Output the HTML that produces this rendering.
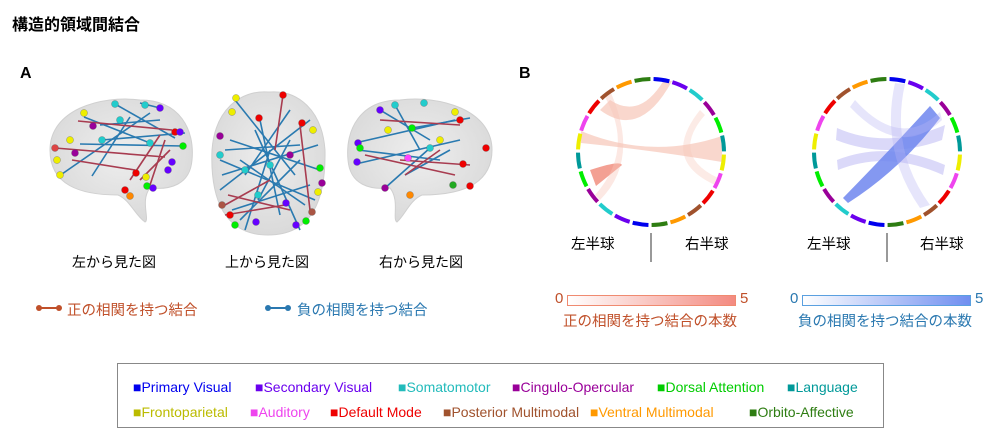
<!DOCTYPE html>
<html><head><meta charset="utf-8"><style>
body{margin:0;width:1000px;height:434px;background:#fff;font-family:"Liberation Sans","Noto Sans CJK JP",sans-serif;position:relative;overflow:hidden}
.t{position:absolute;white-space:nowrap}
.l{position:absolute;white-space:nowrap;font-size:14px;line-height:16px}
</style></head><body>
<div class="t" style="left:12px;top:11px;font-size:16px;font-weight:bold">構造的領域間結合</div>
<div class="t" style="left:20px;top:65px;font-size:16px;font-weight:bold">A</div>
<div class="t" style="left:519px;top:65px;font-size:16px;font-weight:bold">B</div>

<svg width="1000" height="434" style="position:absolute;left:0;top:0">
<defs>
<radialGradient id="br" cx="50%" cy="45%" r="60%"><stop offset="0" stop-color="#eeeeee"/><stop offset="1" stop-color="#d8d8d8"/></radialGradient>
<linearGradient id="gr" x1="0" x2="1"><stop offset="0" stop-color="#fff"/><stop offset="1" stop-color="#f38a80"/></linearGradient>
<linearGradient id="gb" x1="0" x2="1"><stop offset="0" stop-color="#fff"/><stop offset="1" stop-color="#6f8ef0"/></linearGradient>
<g id="ring" fill="none" stroke-width="4">
<circle r="73" stroke="#0000ee" stroke-dasharray="16 443" transform="rotate(-88)"/>
<circle r="73" stroke="#6a00ee" stroke-dasharray="16 443" transform="rotate(-73)"/>
<circle r="73" stroke="#22cccc" stroke-dasharray="16 443" transform="rotate(-58)"/>
<circle r="73" stroke="#990099" stroke-dasharray="16 443" transform="rotate(-43)"/>
<circle r="73" stroke="#00ee00" stroke-dasharray="16 443" transform="rotate(-28)"/>
<circle r="73" stroke="#009999" stroke-dasharray="16 443" transform="rotate(-13)"/>
<circle r="73" stroke="#eeee00" stroke-dasharray="16 443" transform="rotate(2)"/>
<circle r="73" stroke="#ee44ee" stroke-dasharray="16 443" transform="rotate(17)"/>
<circle r="73" stroke="#ee0000" stroke-dasharray="16 443" transform="rotate(32)"/>
<circle r="73" stroke="#a0522d" stroke-dasharray="16 443" transform="rotate(47)"/>
<circle r="73" stroke="#ff9900" stroke-dasharray="16 443" transform="rotate(62)"/>
<circle r="73" stroke="#2e7d12" stroke-dasharray="16 443" transform="rotate(77)"/>
<circle r="73" stroke="#0000ee" stroke-dasharray="16 443" transform="rotate(92)"/>
<circle r="73" stroke="#6a00ee" stroke-dasharray="16 443" transform="rotate(107)"/>
<circle r="73" stroke="#22cccc" stroke-dasharray="16 443" transform="rotate(122)"/>
<circle r="73" stroke="#990099" stroke-dasharray="16 443" transform="rotate(137)"/>
<circle r="73" stroke="#00ee00" stroke-dasharray="16 443" transform="rotate(152)"/>
<circle r="73" stroke="#009999" stroke-dasharray="16 443" transform="rotate(167)"/>
<circle r="73" stroke="#eeee00" stroke-dasharray="16 443" transform="rotate(182)"/>
<circle r="73" stroke="#ee44ee" stroke-dasharray="16 443" transform="rotate(197)"/>
<circle r="73" stroke="#ee0000" stroke-dasharray="16 443" transform="rotate(212)"/>
<circle r="73" stroke="#a0522d" stroke-dasharray="16 443" transform="rotate(227)"/>
<circle r="73" stroke="#ff9900" stroke-dasharray="16 443" transform="rotate(242)"/>
<circle r="73" stroke="#2e7d12" stroke-dasharray="16 443" transform="rotate(257)"/>
</g>
</defs>
<!-- brains -->
<g fill="url(#br)" stroke="#d0d0d0">
<path d="M50,150 C50,110 100,95 140,100 C180,100 195,130 192,160 C190,185 170,190 150,188 C140,200 150,220 145,222 C135,215 130,200 118,195 C80,195 50,185 50,150Z"/>
<path d="M268,92 C240,90 215,110 212,150 C210,200 225,235 268,235 C312,235 326,200 325,150 C322,110 298,90 270,92Z"/>
<path d="M492,150 C492,110 440,95 400,100 C360,100 345,130 348,160 C350,185 370,190 390,188 C400,200 392,220 397,222 C405,215 410,200 422,195 C460,195 492,185 492,150Z"/>
</g>
<g stroke-width="1.6" fill="none">
<g stroke="#2a7ab0">
<line x1="84" y1="117" x2="150" y2="143"/><line x1="102" y1="140" x2="185" y2="133"/><line x1="115" y1="104" x2="175" y2="138"/><line x1="62" y1="174" x2="150" y2="113"/><line x1="80" y1="144" x2="183" y2="146"/><line x1="92" y1="176" x2="130" y2="117"/><line x1="140" y1="103" x2="160" y2="108"/><line x1="100" y1="125" x2="160" y2="120"/>
<line x1="235" y1="100" x2="295" y2="175"/><line x1="230" y1="140" x2="320" y2="170"/><line x1="220" y1="190" x2="310" y2="120"/><line x1="240" y1="220" x2="300" y2="160"/><line x1="255" y1="130" x2="300" y2="230"/><line x1="220" y1="160" x2="315" y2="200"/><line x1="245" y1="175" x2="290" y2="110"/><line x1="232" y1="210" x2="310" y2="185"/><line x1="260" y1="120" x2="280" y2="215"/><line x1="222" y1="175" x2="318" y2="145"/><line x1="270" y1="150" x2="245" y2="230"/><line x1="290" y1="140" x2="258" y2="200"/><line x1="225" y1="150" x2="300" y2="145"/><line x1="240" y1="160" x2="305" y2="205"/>
<line x1="355" y1="143" x2="455" y2="120"/><line x1="358" y1="150" x2="440" y2="160"/><line x1="380" y1="110" x2="430" y2="140"/><line x1="412" y1="128" x2="470" y2="118"/><line x1="385" y1="188" x2="430" y2="148"/><line x1="360" y1="163" x2="460" y2="140"/><line x1="450" y1="150" x2="405" y2="175"/><line x1="395" y1="105" x2="420" y2="150"/>
</g>
<g stroke="#a83c50">
<line x1="78" y1="121" x2="172" y2="130"/><line x1="130" y1="180" x2="160" y2="135"/><line x1="140" y1="180" x2="170" y2="150"/><line x1="55" y1="148" x2="165" y2="157"/><line x1="72" y1="160" x2="135" y2="170"/><line x1="150" y1="185" x2="165" y2="140"/>
<line x1="225" y1="205" x2="270" y2="180"/><line x1="228" y1="195" x2="290" y2="210"/><line x1="283" y1="95" x2="275" y2="150"/><line x1="300" y1="125" x2="310" y2="210"/><line x1="225" y1="215" x2="285" y2="205"/>
<line x1="380" y1="120" x2="460" y2="125"/><line x1="400" y1="160" x2="470" y2="165"/><line x1="405" y1="175" x2="440" y2="150"/><line x1="365" y1="155" x2="455" y2="175"/>
</g>
</g>
<g stroke="#555" stroke-width=".3">
<circle cx="84" cy="113" r="3.5" fill="#ee0"/><circle cx="115" cy="104" r="3.5" fill="#2cc"/><circle cx="145" cy="105" r="3.5" fill="#2cc"/><circle cx="160" cy="108" r="3.5" fill="#60f"/><circle cx="175" cy="132" r="3.5" fill="#e00"/><circle cx="180" cy="132" r="3.5" fill="#60f"/><circle cx="70" cy="140" r="3.5" fill="#ee0"/><circle cx="102" cy="140" r="3.5" fill="#2cc"/><circle cx="55" cy="148" r="3.5" fill="#d44"/><circle cx="75" cy="153" r="3.5" fill="#909"/><circle cx="57" cy="160" r="3.5" fill="#ee0"/><circle cx="60" cy="175" r="3.5" fill="#ee0"/><circle cx="183" cy="146" r="3.5" fill="#0e0"/><circle cx="172" cy="162" r="3.5" fill="#60f"/><circle cx="168" cy="170" r="3.5" fill="#60f"/><circle cx="136" cy="173" r="3.5" fill="#e00"/><circle cx="146" cy="177" r="3.5" fill="#ee0"/><circle cx="147" cy="186" r="3.5" fill="#0e0"/><circle cx="153" cy="188" r="3.5" fill="#60f"/><circle cx="125" cy="190" r="3.5" fill="#e00"/><circle cx="130" cy="196" r="3.5" fill="#f80"/><circle cx="150" cy="143" r="3.5" fill="#2cc"/><circle cx="120" cy="120" r="3.5" fill="#2cc"/><circle cx="93" cy="126" r="3.5" fill="#909"/>
<circle cx="236" cy="98" r="3.5" fill="#ee0"/><circle cx="283" cy="95" r="3.5" fill="#e00"/><circle cx="232" cy="112" r="3.5" fill="#ee0"/><circle cx="259" cy="118" r="3.5" fill="#e00"/><circle cx="302" cy="123" r="3.5" fill="#e00"/><circle cx="313" cy="130" r="3.5" fill="#ee0"/><circle cx="220" cy="136" r="3.5" fill="#909"/><circle cx="220" cy="155" r="3.5" fill="#2cc"/><circle cx="320" cy="168" r="3.5" fill="#0e0"/><circle cx="322" cy="183" r="3.5" fill="#909"/><circle cx="318" cy="192" r="3.5" fill="#ee0"/><circle cx="222" cy="205" r="3.5" fill="#a54"/><circle cx="230" cy="215" r="3.5" fill="#e00"/><circle cx="235" cy="225" r="3.5" fill="#0e0"/><circle cx="256" cy="222" r="3.5" fill="#60f"/><circle cx="296" cy="225" r="3.5" fill="#60f"/><circle cx="306" cy="221" r="3.5" fill="#0e0"/><circle cx="312" cy="212" r="3.5" fill="#a54"/><circle cx="286" cy="203" r="3.5" fill="#60f"/><circle cx="258" cy="195" r="3.5" fill="#2cc"/><circle cx="270" cy="165" r="3.5" fill="#2cc"/><circle cx="245" cy="170" r="3.5" fill="#2cc"/><circle cx="290" cy="155" r="3.5" fill="#909"/>
<circle cx="380" cy="110" r="3.5" fill="#60f"/><circle cx="395" cy="105" r="3.5" fill="#2cc"/><circle cx="424" cy="103" r="3.5" fill="#2cc"/><circle cx="455" cy="112" r="3.5" fill="#ee0"/><circle cx="460" cy="120" r="3.5" fill="#e00"/><circle cx="412" cy="128" r="3.5" fill="#0e0"/><circle cx="388" cy="130" r="3.5" fill="#ee0"/><circle cx="358" cy="143" r="3.5" fill="#60f"/><circle cx="360" cy="148" r="3.5" fill="#0e0"/><circle cx="357" cy="162" r="3.5" fill="#60f"/><circle cx="486" cy="148" r="3.5" fill="#e00"/><circle cx="463" cy="164" r="3.5" fill="#e00"/><circle cx="470" cy="186" r="3.5" fill="#e00"/><circle cx="453" cy="185" r="3.5" fill="#2a2"/><circle cx="408" cy="158" r="3.5" fill="#f4f"/><circle cx="385" cy="188" r="3.5" fill="#909"/><circle cx="410" cy="195" r="3.5" fill="#f80"/><circle cx="430" cy="148" r="3.5" fill="#2cc"/><circle cx="440" cy="140" r="3.5" fill="#ee0"/>
</g>
<!-- legend lines -->
<g stroke-width="2"><line x1="38" y1="308" x2="60" y2="308" stroke="#c0502a"/><circle cx="39" cy="308" r="3" fill="#c0502a"/><circle cx="59" cy="308" r="3" fill="#c0502a"/>
<line x1="267" y1="308" x2="289" y2="308" stroke="#2a78b0"/><circle cx="268" cy="308" r="3" fill="#2a78b0"/><circle cx="288" cy="308" r="3" fill="#2a78b0"/></g>

<!-- chords -->
<g fill="#f7c6b8" fill-opacity=".7">
<path d="M581,131 Q651,160 722,136 L722,162 Q651,150 581,143Z"/>
<path d="M596,186 L590,170 Q620,160 622,165Z" fill="#f08878" fill-opacity=".8"/>
<path d="M672,81 Q640,140 600,110 L610,100 Q640,120 664,80Z"/>
<path d="M611,93 Q640,160 600,200 L595,195 Q635,150 605,97Z" fill-opacity=".4"/>
<path d="M700,110 Q660,160 715,185 L718,178 Q670,155 705,115Z" fill-opacity=".35"/>
</g>
<g fill="#b8b4f4" fill-opacity=".5">
<path d="M837,128 Q887,150 945,125 L942,140 Q887,160 836,140Z"/>
<path d="M837,160 Q887,140 945,165 L943,175 Q887,150 838,170Z"/>
<path d="M930,106 L940,118 Q900,170 848,203 L843,198 Q890,150 930,106Z" fill="#6f86ee" fill-opacity=".85"/>
<path d="M905,84 Q890,150 930,205 L920,208 Q880,150 895,83Z" fill-opacity=".35"/>
<path d="M855,100 Q900,150 940,112 L942,120 Q900,160 850,107Z" fill-opacity=".35"/>
</g>
<use href="#ring" x="651" y="152"/>
<use href="#ring" x="887" y="152"/>
<line x1="651" y1="233" x2="651" y2="262" stroke="#333"/>
<line x1="887" y1="233" x2="887" y2="262" stroke="#333"/>
<rect x="567.5" y="295.5" width="168" height="10" fill="url(#gr)" stroke="#f08a70"/>
<rect x="802.5" y="295.5" width="168" height="10" fill="url(#gb)" stroke="#5aa0e0"/>
<rect x="117.5" y="363.5" width="766" height="64" fill="#fff" stroke="#888"/>
</svg>

<div class="t" style="left:72px;top:252px;font-size:14px">左から見た図</div>
<div class="t" style="left:225px;top:252px;font-size:14px">上から見た図</div>
<div class="t" style="left:379px;top:252px;font-size:14px">右から見た図</div>
<div class="t" style="left:67px;top:299px;font-size:14.5px;color:#c0502a">正の相関を持つ結合</div>
<div class="t" style="left:297px;top:299px;font-size:14.5px;color:#2a78b0">負の相関を持つ結合</div>

<div class="t" style="left:571px;top:233px;font-size:14.5px">左半球</div>
<div class="t" style="left:685px;top:233px;font-size:14.5px">右半球</div>
<div class="t" style="left:807px;top:233px;font-size:14.5px">左半球</div>
<div class="t" style="left:920px;top:233px;font-size:14.5px">右半球</div>
<div class="t" style="left:555px;top:290px;font-size:15px;color:#c0502a">0</div>
<div class="t" style="left:740px;top:290px;font-size:15px;color:#c0502a">5</div>
<div class="t" style="left:790px;top:290px;font-size:15px;color:#2a78b0">0</div>
<div class="t" style="left:975px;top:290px;font-size:15px;color:#2a78b0">5</div>
<div class="t" style="left:563px;top:310px;font-size:14.5px;color:#c0502a">正の相関を持つ結合の本数</div>
<div class="t" style="left:798px;top:310px;font-size:14.5px;color:#2a78b0">負の相関を持つ結合の本数</div>

<div class="l" style="left:133px;top:379px;color:#0000ee">■Primary Visual</div>
<div class="l" style="left:255px;top:379px;color:#6a00ee">■Secondary Visual</div>
<div class="l" style="left:398px;top:379px;color:#22bbbb">■Somatomotor</div>
<div class="l" style="left:512px;top:379px;color:#990099">■Cingulo-Opercular</div>
<div class="l" style="left:657px;top:379px;color:#00cc00">■Dorsal Attention</div>
<div class="l" style="left:787px;top:379px;color:#009999">■Language</div>
<div class="l" style="left:133px;top:404px;color:#bbbb00">■Frontoparietal</div>
<div class="l" style="left:250px;top:404px;color:#ee44ee">■Auditory</div>
<div class="l" style="left:330px;top:404px;color:#ee0000">■Default Mode</div>
<div class="l" style="left:443px;top:404px;color:#a0522d">■Posterior Multimodal</div>
<div class="l" style="left:590px;top:404px;color:#ff9900">■Ventral Multimodal</div>
<div class="l" style="left:749px;top:404px;color:#2e7d12">■Orbito-Affective</div>
</body></html>
